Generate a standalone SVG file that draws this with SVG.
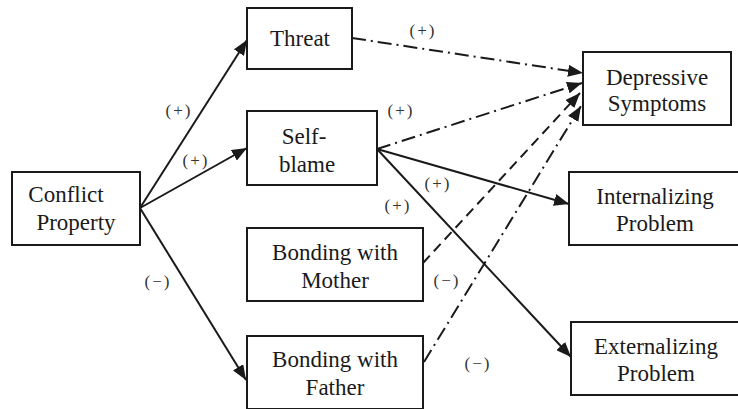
<svg xmlns="http://www.w3.org/2000/svg" width="738" height="409" viewBox="0 0 738 409">
<defs>
<marker id="ah" markerUnits="userSpaceOnUse" markerWidth="16" markerHeight="12" refX="15" refY="6" orient="auto">
<path d="M0,0 L15,6 L0,12 z" fill="#1a1a1a"/>
</marker>
<style>
.box{fill:#fff;stroke:#1a1a1a;stroke-width:2}
.t{font-size:23px;fill:#1a1a1a;text-anchor:middle}
.lab{font-size:17px;fill:#333;text-anchor:middle;letter-spacing:2px}
.c{fill:none;stroke:#1a1a1a;stroke-width:2;marker-end:url(#ah)}
.dd{stroke-dasharray:14 5 2 5}
.ds{stroke-dasharray:10 6}
</style>
</defs>
<rect width="738" height="409" fill="#fff"/>
<g id="connectors">
<line class="c" x1="140" y1="208" x2="247" y2="40"/>
<line class="c" x1="140" y1="208" x2="247" y2="148"/>
<line class="c" x1="140" y1="208" x2="246" y2="380"/>
<line class="c dd" x1="352" y1="38" x2="583" y2="73"/>
<line class="c dd" x1="377" y1="149" x2="582" y2="83"/>
<line class="c ds" x1="423" y1="263" x2="580" y2="93"/>
<line class="c dd" x1="424" y1="362" x2="581" y2="106"/>
<line class="c" x1="377" y1="149" x2="569" y2="204"/>
<line class="c" x1="377" y1="149" x2="571" y2="357"/>
</g>
<g id="labels" font-family="Liberation Serif, Times New Roman, serif">
<text class="lab" x="179" y="116">(+)</text>
<text class="lab" x="196" y="166">(+)</text>
<text class="lab" x="158" y="287">(−)</text>
<text class="lab" x="423" y="36">(+)</text>
<text class="lab" x="401" y="116">(+)</text>
<text class="lab" x="438" y="189">(+)</text>
<text class="lab" x="398" y="211">(+)</text>
<text class="lab" x="447" y="286">(−)</text>
<text class="lab" x="478" y="369">(−)</text>
</g>
<g id="nodes" font-family="Liberation Serif, Times New Roman, serif">
<g id="conflict">
<rect class="box" x="12" y="172" width="128" height="73"/>
<text class="t" x="66" y="202">Conflict</text>
<text class="t" x="76" y="230">Property</text>
</g>
<g id="threat">
<rect class="box" x="247" y="8" width="105" height="61"/>
<text class="t" x="300" y="46">Threat</text>
</g>
<g id="selfblame">
<rect class="box" x="247" y="111" width="130" height="74"/>
<text class="t" x="304" y="144">Self-</text>
<text class="t" x="307" y="172">blame</text>
</g>
<g id="mother">
<rect class="box" x="247" y="228" width="176" height="73"/>
<text class="t" x="335" y="260">Bonding with</text>
<text class="t" x="335" y="288">Mother</text>
</g>
<g id="father">
<rect class="box" x="247" y="336" width="176" height="73"/>
<text class="t" x="335" y="367">Bonding with</text>
<text class="t" x="335" y="395">Father</text>
</g>
<g id="depressive">
<rect class="box" x="583" y="52" width="148" height="73"/>
<text class="t" x="657" y="85">Depressive</text>
<text class="t" x="657" y="111">Symptoms</text>
</g>
<g id="internalizing">
<rect class="box" x="569" y="172" width="172" height="73"/>
<text class="t" x="655" y="204">Internalizing</text>
<text class="t" x="655" y="231">Problem</text>
</g>
<g id="externalizing">
<rect class="box" x="571" y="322" width="170" height="73"/>
<text class="t" x="656" y="354">Externalizing</text>
<text class="t" x="656" y="381">Problem</text>
</g>
</g>
</svg>
